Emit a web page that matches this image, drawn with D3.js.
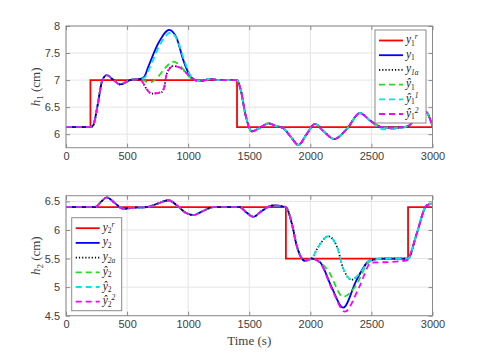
<!DOCTYPE html>
<html lang="en">
<head>
<meta charset="utf-8">
<title>Tank levels h1 / h2</title>
<script src="https://cdn.jsdelivr.net/npm/d3@7"></script>
<style>
  body { margin: 0; background: #fff; }
  .tick text { font-family: "Liberation Sans", Arial, sans-serif; font-size: 11px; fill: #404040; }
  .lab { font-family: "Liberation Serif", "DejaVu Serif", serif; font-size: 13px; fill: #404040; }
  .leg { font-family: "Liberation Serif", "DejaVu Serif", serif; font-size: 11.5px; font-style: italic; fill: #222; }
  .grid line { stroke: #e4e4e4; }
  .frame { fill: none; stroke: #8a8a8a; stroke-width: 1; }
  .series { fill: none; stroke-width: 1.8; }
</style>
</head>
<body>
<script>
// --- data: [time (s), level (cm)] ---

// top panel, h1
var y1Ref = [[0,6.13],[200,6.13],[200,7],[1400,7],[1400,6.13],[3000,6.13]];
var y1Start = [[0,6.13],[200,6.13],[222,6.16],[260,6.55],[295,6.98],[333,7.09],[385,7.01],[442,6.92],[538,7.01],[605,7.02]];
var y1Mid = [[640,7.06],[674,7.25],[760,7.7],[845,7.93],[905,7.78],[960,7.37],[1010,7.1],[1056,7.0]];
var y1MidHat1 = [[645,7.05],[684,7.22],[770,7.66],[858,7.88],[915,7.72],[970,7.35],[1020,7.08],[1066,6.99]];
var y1aMid = [[630,6.95],[655,6.85],[701,6.75],[783,6.78],[803,6.86],[825,7.12],[878,7.26],[960,7.19],[1010,7.07],[1056,7.0]];
var y1HatMid = [[640,6.99],[680,6.95],[742,7.03],[810,7.22],[878,7.34],[960,7.2],[1010,7.06],[1056,7.0]];
var y1Tail = [[1100,6.98],[1180,7.02],[1260,7.0],[1400,7.0],[1430,6.82],[1470,6.35],[1520,6.05],[1590,6.12],[1656,6.2],[1720,6.15],
              [1779,6.11],[1840,5.95],[1902,5.8],[1970,6.0],[2038,6.19],[2110,6.05],[2196,5.91],[2300,6.1],[2406,6.39],
              [2490,6.25],[2583,6.13],[2690,6.12],[2788,6.14],[2860,6.27],[2940,6.42],[3000,6.15]];
var y1TailHat1 = [[1100,6.98],[1180,7.02],[1260,7.0],[1400,7.0],[1430,6.82],[1470,6.35],[1520,6.05],[1590,6.12],[1656,6.2],[1720,6.15],
              [1779,6.11],[1840,5.95],[1902,5.8],[1970,6.0],[2038,6.19],[2110,6.05],[2196,5.91],[2300,6.1],[2406,6.39],
              [2490,6.24],[2600,6.09],[2700,6.1],[2788,6.14],[2860,6.27],[2940,6.42],[3000,6.15]];

// bottom panel, h2
var y2Ref = [[0,6.4],[1800,6.4],[1800,5.5],[2800,5.5],[2800,6.4],[3000,6.4]];
var y2Start = [[0,6.4],[237,6.4],[290,6.5],[333,6.57],[400,6.47],[469,6.37],[560,6.39],[660,6.4],[760,6.47],[837,6.52],[919,6.41],
               [980,6.3],[1042,6.26],[1120,6.33],[1206,6.4],[1420,6.4],[1480,6.3],[1533,6.23],[1600,6.33],[1697,6.43],[1800,6.4],
               [1850,6.1],[1888,5.73],[1956,5.46],[2010,5.5]];
var y2Mid = [[2078,5.44],[2174,5.0],[2269,4.64],[2378,5.12],[2487,5.47]];
var y2aMid = [[2064,5.7],[2146,5.89],[2214,5.73],[2269,5.33],[2337,5.13],[2406,5.24],[2487,5.47]];
var y2HatMid = [[2078,5.44],[2146,5.29],[2269,4.83],[2365,5.0],[2487,5.45]];
var y2Hat2Mid = [[2078,5.43],[2180,4.95],[2283,4.57],[2400,5.0],[2500,5.43],[2650,5.44],[2790,5.47]];
var y2Tail = [[2600,5.5],[2800,5.5],[2870,5.93],[2952,6.43],[3000,6.46]];
var y2Hat2Tail = [[2870,5.93],[2952,6.43],[3000,6.46]];

var xTicks = [0, 500, 1000, 1500, 2000, 2500, 3000];
var y1Ticks = [6, 6.5, 7, 7.5, 8];
var y2Ticks = [4.5, 5, 5.5, 6, 6.5];

var colors = ["#ff0000", "#0000ff", "#000000", "#22dd22", "#00e5ee", "#ff00ff"];
// legend labels: [base, subscript, superscript]
var legend1 = [["y","1","r"],["y","1",""],["y","1a",""],["ŷ","1",""],["ŷ","1","1"],["ŷ","1","2"]];
var legend2 = [["y","2","r"],["y","2",""],["y","2a",""],["ŷ","2",""],["ŷ","2",""],["ŷ","2","2"]];

var w = 477, h = 355;
var left = 66, right = 432.5;

var svg = d3.select("body").append("svg").attr("width", w).attr("height", h);

var x = d3.scaleLinear().domain([0, 3000]).range([left, right]);

function panel(top, bottom, yDomain, yTicks, series, legendItems, legendBox, labelSub) {
  var y = d3.scaleLinear().domain(yDomain).range([bottom, top]);
  var g = svg.append("g");

  // grid
  g.append("g").attr("class", "grid").selectAll("line").data(xTicks).join("line")
    .attr("x1", d => x(d)).attr("x2", d => x(d)).attr("y1", top).attr("y2", bottom);
  g.append("g").attr("class", "grid").selectAll("line").data(yTicks).join("line")
    .attr("x1", left).attr("x2", right).attr("y1", d => y(d)).attr("y2", d => y(d));

  // axes (ticks inside like matlab)
  g.append("g").attr("transform", "translate(0," + bottom + ")")
    .call(d3.axisBottom(x).tickValues(xTicks).tickSize(-4).tickPadding(5).tickFormat(d3.format("d")));
  g.append("g").attr("transform", "translate(" + left + ",0)")
    .call(d3.axisLeft(y).tickValues(yTicks).tickSize(-4).tickPadding(6).tickFormat(d3.format("")));
  g.append("g").attr("transform", "translate(0," + top + ")")
    .call(d3.axisTop(x).tickValues(xTicks).tickSize(-4).tickFormat(""));
  g.append("g").attr("transform", "translate(" + right + ",0)")
    .call(d3.axisRight(y).tickValues(yTicks).tickSize(-4).tickFormat(""));
  g.selectAll(".domain").remove();
  g.selectAll(".tick line").attr("stroke", "#8a8a8a");

  // data lines
  var clip = "clip" + labelSub;
  svg.append("clipPath").attr("id", clip).append("rect")
    .attr("x", left).attr("y", top).attr("width", right - left).attr("height", bottom - top);
  var smooth = d3.line().x(d => x(d[0])).y(d => y(d[1])).curve(d3.curveMonotoneX);
  var step = d3.line().x(d => x(d[0])).y(d => y(d[1]));
  var lines = g.append("g").attr("clip-path", "url(#" + clip + ")");
  series.forEach(function(s, i) {
    lines.append("path").datum(s.data).attr("class", "series")
      .attr("stroke", colors[i])
      .attr("stroke-dasharray", s.dash || null)
      .attr("d", i === 0 ? step(s.data) : smooth(s.data));
  });

  g.append("rect").attr("class", "frame")
    .attr("x", left).attr("y", top).attr("width", right - left).attr("height", bottom - top);

  // y label
  var ly = g.append("text").attr("class", "lab")
    .attr("transform", "translate(" + (left - 26) + "," + ((top + bottom) / 2) + ") rotate(-90)")
    .attr("text-anchor", "middle");
  ly.append("tspan").attr("font-style", "italic").text("h");
  ly.append("tspan").attr("font-size", "9px").attr("dy", 3).text(labelSub);
  ly.append("tspan").attr("dy", -3).text(" (cm)");

  // legend
  var lb = legendBox;
  g.append("rect").attr("x", lb.x).attr("y", lb.y).attr("width", lb.w).attr("height", lb.h)
    .attr("fill", "#fff").attr("stroke", "#8a8a8a");
  legendItems.forEach(function(item, i) {
    var cy = lb.y + 10.5 + i * 14.7;
    g.append("line").attr("x1", lb.x + 4).attr("x2", lb.x + 28).attr("y1", cy).attr("y2", cy)
      .attr("stroke", colors[i]).attr("stroke-width", 1.8)
      .attr("stroke-dasharray", series[i].dash || null);
    var t = g.append("text").attr("class", "leg").attr("x", lb.x + 31).attr("y", cy + 2.5);
    t.append("tspan").text(item[0]);
    t.append("tspan").attr("font-size", "7.5px").attr("font-style", item[1].length > 1 ? "italic" : "normal")
      .attr("dy", 2.5).text(item[1]);
    if (item[2]) {
      t.append("tspan").attr("font-size", "7.5px").attr("dy", -6.5).text(item[2]);
    }
  });
}

var dotted = "1.2,2", dashed = "6,4";

panel(26, 147.7, [5.75, 8], y1Ticks, [
  { data: y1Ref },
  { data: y1Start.concat(y1Mid, y1Tail) },
  { data: y1Start.concat(y1aMid, y1Tail), dash: dotted },
  { data: y1Start.concat(y1HatMid, y1Tail), dash: dashed },
  { data: y1Start.concat(y1MidHat1, y1TailHat1), dash: dashed },
  { data: y1Start.concat(y1aMid, y1Tail), dash: dashed }
], legend1, { x: 375, y: 30, w: 51, h: 93 }, "1");

panel(195.7, 315.7, [4.5, 6.6], y2Ticks, [
  { data: y2Ref },
  { data: y2Start.concat(y2Mid, y2Tail) },
  { data: y2Start.concat(y2aMid, y2Tail), dash: dotted },
  { data: y2Start.concat(y2HatMid, y2Tail), dash: dashed },
  { data: y2Start.concat(y2aMid, y2Tail), dash: dashed },
  { data: y2Start.concat(y2Hat2Mid, y2Hat2Tail), dash: dashed }
], legend2, { x: 71.7, y: 217.7, w: 50, h: 93 }, "2");

// x label
svg.append("text").attr("class", "lab").attr("x", (left + right) / 2).attr("y", 345)
  .attr("text-anchor", "middle").text("Time (s)");
</script>
</body>
</html>
